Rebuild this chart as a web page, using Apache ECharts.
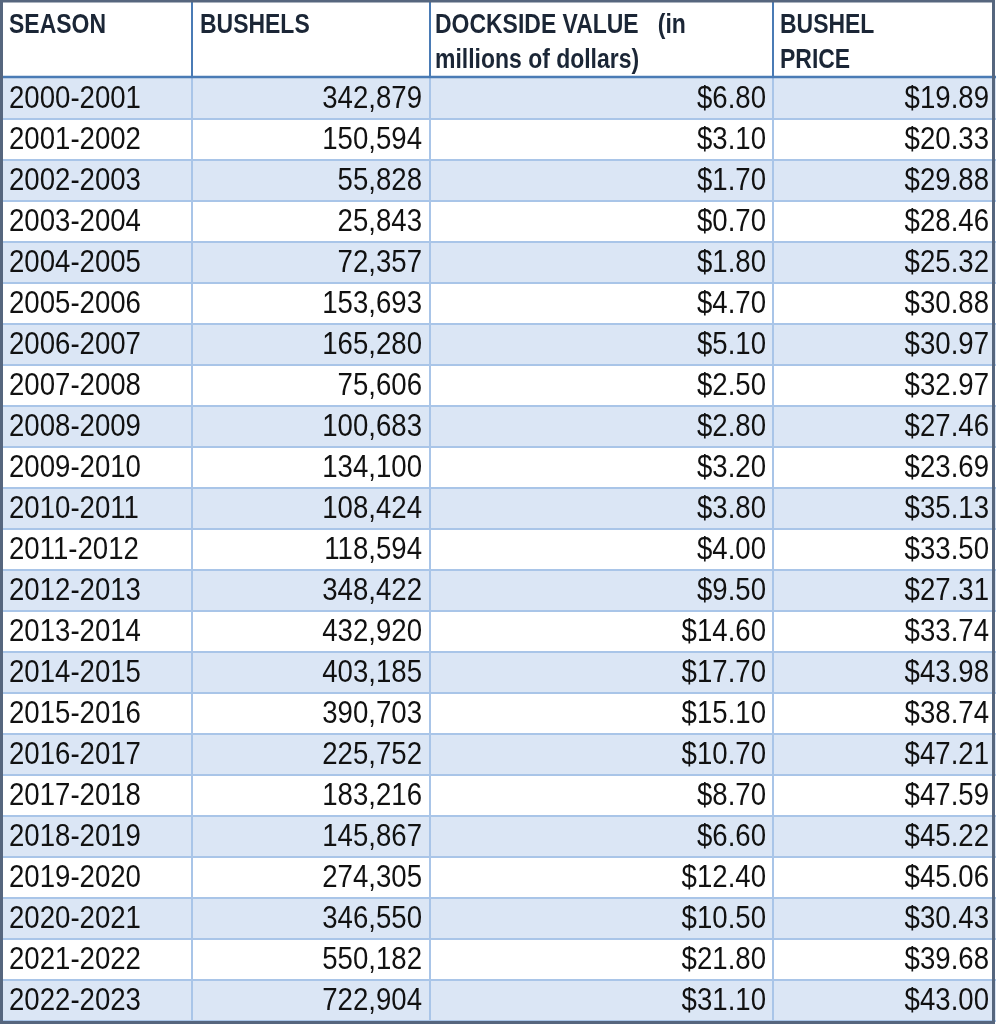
<!DOCTYPE html>
<html>
<head>
<meta charset="utf-8">
<script src="https://cdn.jsdelivr.net/npm/echarts@6/dist/echarts.min.js"></script>
<style>
html,body{margin:0;padding:0;background:#fff;}
#chart{width:996px;height:1024px;}
</style>
</head>
<body>
<div id="chart"></div>
<script>
// ---- data ----
var seasons = ['2000-2001','2001-2002','2002-2003','2003-2004','2004-2005','2005-2006','2006-2007','2007-2008','2008-2009','2009-2010','2010-2011','2011-2012','2012-2013','2013-2014','2014-2015','2015-2016','2016-2017','2017-2018','2018-2019','2019-2020','2020-2021','2021-2022','2022-2023'];
var bushels = [342879,150594,55828,25843,72357,153693,165280,75606,100683,134100,108424,118594,348422,432920,403185,390703,225752,183216,145867,274305,346550,550182,722904];
var dockside = [6.80,3.10,1.70,0.70,1.80,4.70,5.10,2.50,2.80,3.20,3.80,4.00,9.50,14.60,17.70,15.10,10.70,8.70,6.60,12.40,10.50,21.80,31.10];
var bushelPrice = [19.89,20.33,29.88,28.46,25.32,30.88,30.97,32.97,27.46,23.69,35.13,33.50,27.31,33.74,43.98,38.74,47.21,47.59,45.22,45.06,30.43,39.68,43.00];
var headerLines = [
  ['SEASON', ''],
  ['BUSHELS', ''],
  ['DOCKSIDE VALUE   (in', 'millions of dollars)'],
  ['BUSHEL', 'PRICE']
];

// ---- layout / style constants ----
var W = 996, H = 1024, HEADER_H = 78, BORDER_B = 3;
var colEdges = [0, 192, 430, 773, 996];
var FAMILY = 'Liberation Sans';
var STRIPE = '#dbe6f5', GRID_LIGHT = '#a9c5e8', GRID_HEAD = '#4a7bb5', OUTER = '#56667e';

function fmtInt(n){ return String(n).replace(/\B(?=(\d{3})+(?!\d))/g, ','); }
function fmtMoney(n){ return '$' + n.toFixed(2); }

var cellTexts = seasons.map(function(s, i){
  return [s, fmtInt(bushels[i]), fmtMoney(dockside[i]), fmtMoney(bushelPrice[i])];
});

var chart = echarts.init(document.getElementById('chart'), null, {renderer:'canvas'});

function bodyText(x, y, txt, align){
  return {
    type:'text', x:x, y:y, scaleX:0.89, scaleY:1,
    style:{text:txt, x:0, y:0, align:align, verticalAlign:'middle',
      fontFamily:FAMILY, fontSize:31, fontWeight:'normal', fill:'#111111'}
  };
}

function renderRow(params, api){
  var row = api.value(1);
  var c = api.coord([0, row]);
  var h = api.size([0, 1])[1];
  var top = c[1] - h/2;
  var cy = c[1] + 0.5;
  var xs = colEdges.map(function(e){ return api.coord([e, row])[0]; });
  var children = [];
  if (row % 2 === 0) {
    children.push({type:'rect', shape:{x:xs[0], y:top, width:xs[4]-xs[0], height:h}, style:{fill:STRIPE}});
  }
  var t = cellTexts[row];
  children.push(bodyText(xs[0] + 9, cy, t[0], 'left'));
  children.push(bodyText(xs[2] - 8, cy, t[1], 'right'));
  children.push(bodyText(xs[3] - 7, cy, t[2], 'right'));
  children.push(bodyText(xs[4] - 7, cy, t[3], 'right'));
  return {type:'group', children:children};
}

function renderLines(params, api){
  var row = api.value(1);
  var c = api.coord([0, row]);
  var h = api.size([0, 1])[1];
  var top = c[1] - h/2, bot = c[1] + h/2;
  var xs = colEdges.map(function(e){ return api.coord([e, row])[0]; });
  var children = [];
  children.push({type:'line', shape:{x1:xs[0], y1:bot, x2:xs[4], y2:bot}, style:{stroke:GRID_LIGHT, lineWidth:2}});
  for (var k = 1; k < 4; k++) {
    children.push({type:'line', shape:{x1:xs[k], y1:top, x2:xs[k], y2:bot}, style:{stroke:GRID_LIGHT, lineWidth:2}});
  }
  return {type:'group', children:children};
}

var rowData = seasons.map(function(s, i){ return [0, i]; });

// header graphics
var graphics = [];
graphics.push({type:'rect', left:0, top:0, shape:{width:W, height:HEADER_H}, style:{fill:'#ffffff'}, z:1});
headerLines.forEach(function(lines, k){
  var x = colEdges[k] + (k === 0 ? 9 : 8);
  if (k === 2) x = colEdges[k] + 5;
  if (k === 3) x = colEdges[k] + 7;
  lines.forEach(function(txt, j){
    if (!txt) return;
    graphics.push({type:'text', x:x, y:(j === 0 ? 25 : 60), scaleX:0.82, z:3,
      style:{text:txt, x:0, y:0, align:'left', verticalAlign:'middle',
        fontFamily:FAMILY, fontSize:28, fontWeight:'bold', fill:'#1b2636'}});
  });
  if (k > 0) {
    graphics.push({type:'line', z:4, shape:{x1:colEdges[k], y1:0, x2:colEdges[k], y2:HEADER_H}, style:{stroke:GRID_HEAD, lineWidth:2}});
  }
});
graphics.push({type:'line', z:4, shape:{x1:0, y1:HEADER_H-1, x2:W, y2:HEADER_H-1}, style:{stroke:GRID_HEAD, lineWidth:2.5}});
graphics.push({type:'rect', z:5, shape:{x:1.5, y:1, width:W-4, height:H-2.5}, style:{fill:'none', stroke:OUTER, lineWidth:3}});

chart.setOption({
  animation:false,
  backgroundColor:'#ffffff',
  grid:{left:0, right:0, top:HEADER_H, bottom:BORDER_B},
  xAxis:{type:'value', min:0, max:W, show:false},
  yAxis:{type:'category', data:seasons, inverse:true, show:false},
  graphic:graphics,
  series:[
    {type:'custom', renderItem:renderRow, data:rowData, z:2, encode:{x:0, y:1}, clip:false},
    {type:'custom', renderItem:renderLines, data:rowData, z:3, encode:{x:0, y:1}, clip:false}
  ]
});
</script>
</body>
</html>
